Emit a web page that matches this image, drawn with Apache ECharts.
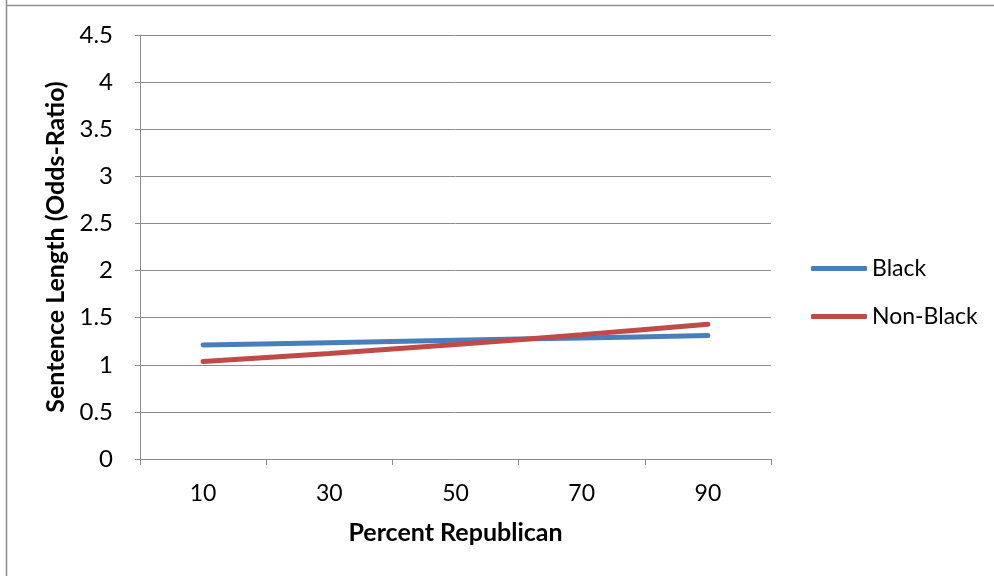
<!DOCTYPE html>
<html>
<head>
<meta charset="utf-8">
<script src="https://cdn.jsdelivr.net/npm/echarts@6/dist/echarts.min.js"></script>
<style>html,body{margin:0;padding:0;background:#fff;}#c{width:994px;height:576px;}</style>
</head>
<body>
<div id="c"></div>
<script>
var categories = ['10', '30', '50', '70', '90'];
var blackValues = [1.21, 1.235, 1.26, 1.285, 1.31];
var nonBlackValues = [1.035, 1.12, 1.215, 1.32, 1.43];
var seriesNames = ['Black', 'Non-Black'];

var chart = echarts.init(document.getElementById('c'));
var font = 'Lato, "Open Sans", sans-serif';
chart.setOption({
  animation: false,
  backgroundColor: '#fff',
  textStyle: { fontFamily: font },
  graphic: [
    { type: 'line', shape: { x1: 6.5, y1: 0, x2: 6.5, y2: 576 }, style: { stroke: '#8c8c8c', lineWidth: 1.5 } },
    { type: 'line', shape: { x1: 6, y1: 5.5, x2: 994, y2: 5.5 }, style: { stroke: '#8c8c8c', lineWidth: 1.5 } }
  ],
  grid: { left: 140, right: 223, top: 35, bottom: 117 },
  legend: {
    orient: 'vertical', left: 811, top: 257, padding: 0, itemWidth: 56, itemHeight: 5, itemGap: 25,
    icon: 'roundRect',
    textStyle: { fontSize: 23, color: '#000', fontFamily: font },
    data: seriesNames
  },
  xAxis: {
    type: 'category', data: categories, boundaryGap: true,
    name: 'Percent Republican', nameLocation: 'middle', nameGap: 61,
    nameTextStyle: { fontSize: 25, fontWeight: 'bold', color: '#000', fontFamily: font },
    axisLine: { lineStyle: { color: '#8c8c8c', width: 1 } },
    axisTick: { show: true, length: 6, lineStyle: { color: '#8c8c8c' } },
    axisLabel: { fontSize: 23, color: '#000', margin: 23, fontFamily: font },
    splitLine: { show: false }
  },
  yAxis: {
    type: 'value', min: 0, max: 4.5, interval: 0.5,
    name: 'Sentence Length (Odds-Ratio)', nameLocation: 'middle', nameGap: 68, nameRotate: 90,
    nameTextStyle: { fontSize: 25, fontWeight: 'bold', color: '#000', fontFamily: font },
    axisLine: { show: true, lineStyle: { color: '#8c8c8c', width: 1 } },
    axisTick: { show: true, length: 5, inside: false, lineStyle: { color: '#8c8c8c' } },
    axisLabel: { fontSize: 24, color: '#000', margin: 27, fontFamily: font },
    splitLine: { show: true, lineStyle: { color: '#8c8c8c', width: 1 } }
  },
  series: [
    { name: seriesNames[0], type: 'line', data: blackValues, symbol: 'none', smooth: 0.3,
      lineStyle: { color: '#4a7ebb', width: 5, cap: 'round' }, itemStyle: { color: '#4a7ebb' } },
    { name: seriesNames[1], type: 'line', data: nonBlackValues, symbol: 'none', smooth: 0.3,
      lineStyle: { color: '#be4b48', width: 5, cap: 'round' }, itemStyle: { color: '#be4b48' } }
  ]
});
</script>
</body>
</html>
